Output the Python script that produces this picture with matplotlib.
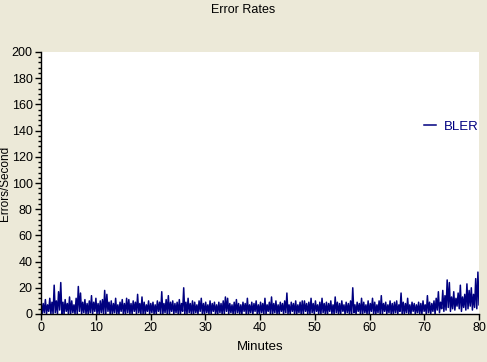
import matplotlib
matplotlib.use("Agg")
import matplotlib.pyplot as plt
import numpy as np
from matplotlib.ticker import MultipleLocator

# BLER samples: one peak and one trough per 0.4-minute step
bler_peaks = [
    10, 8, 11, 7, 12, 9, 22, 10, 17, 24,
    9, 11, 8, 13, 10, 7, 12, 21, 16, 9,
    11, 8, 10, 14, 9, 12, 8, 10, 11, 18,
    15, 9, 10, 8, 12, 7, 9, 11, 8, 12,
    11, 8, 10, 9, 15, 8, 13, 9, 7, 10,
    8, 9, 7, 10, 9, 17, 8, 11, 14, 9,
    10, 8, 9, 11, 8, 20, 9, 12, 8, 10,
    9, 7, 10, 12, 8, 9, 7, 10, 8, 9,
    7, 9, 8, 10, 13, 12, 8, 7, 9, 11,
    8, 7, 9, 8, 12, 7, 9, 8, 10, 7,
    9, 8, 12, 7, 9, 13, 8, 10, 7, 9,
    8, 10, 16, 7, 9, 8, 10, 7, 9, 10,
    10, 8, 9, 12, 8, 10, 7, 9, 12, 8,
    9, 8, 10, 7, 13, 9, 8, 10, 7, 9,
    8, 10, 20, 7, 9, 8, 12, 9, 7, 10,
    8, 12, 9, 7, 10, 14, 8, 9, 7, 10,
    8, 9, 10, 7, 16, 9, 8, 12, 7, 9,
    8, 7, 9, 8, 10, 7, 14, 9, 8, 10,
    12, 17, 9, 18, 14, 26, 24, 13, 17, 12,
    16, 22, 13, 15, 23, 18, 20, 15, 27, 32,
]
bler_troughs = [
    0, 1, 0, 2, 0, 0, 1, 0, 3, 0,
    0, 2, 0, 0, 1, 0, 0, 2, 0, 1,
    0, 0, 1, 0, 2, 0, 0, 1, 0, 0,
    2, 0, 0, 1, 0, 0, 2, 0, 0, 1,
    0, 0, 2, 0, 1, 0, 0, 0, 2, 0,
    1, 0, 0, 2, 0, 0, 1, 0, 0, 2,
    0, 1, 0, 0, 2, 0, 0, 1, 0, 0,
    1, 0, 2, 0, 0, 1, 0, 0, 2, 0,
    0, 1, 0, 0, 2, 0, 1, 0, 0, 1,
    0, 0, 2, 0, 0, 1, 0, 2, 0, 0,
    1, 0, 0, 2, 0, 0, 1, 0, 0, 2,
    0, 1, 0, 0, 2, 0, 0, 1, 0, 0,
    2, 0, 0, 1, 0, 2, 0, 0, 1, 0,
    0, 2, 0, 0, 1, 0, 0, 2, 0, 1,
    0, 0, 1, 0, 2, 0, 0, 1, 0, 0,
    2, 0, 0, 1, 0, 0, 2, 0, 1, 0,
    0, 1, 0, 2, 0, 0, 1, 0, 0, 2,
    0, 1, 0, 0, 2, 0, 1, 0, 2, 0,
    3, 1, 4, 2, 3, 5, 2, 4, 3, 6,
    4, 2, 5, 3, 4, 6, 3, 5, 4, 7,
]
step = 0.4

BG = "#ECE9D8"
NAVY = "#000080"
FS = 9
plt.rcParams["font.family"] = ["Liberation Sans", "DejaVu Sans"]

n = len(bler_peaks)
t = np.empty(2 * n)
t[0::2] = np.arange(n) * step
t[1::2] = np.arange(n) * step + step / 2
y = np.empty(2 * n)
y[0::2] = bler_peaks
y[1::2] = bler_troughs
t = t * 80 / t[-1]

fig = plt.figure(figsize=(4.87, 3.62), dpi=100, facecolor=BG)
ax = fig.add_axes([41 / 487, 48 / 362, 438 / 487, 262 / 362])
ax.set_facecolor("white")
ax.plot(t, y, color=NAVY, lw=1.1, label="BLER")

ax.set_xlim(0, 80)
ax.set_ylim(0, 200)
ax.xaxis.set_major_locator(MultipleLocator(10))
ax.yaxis.set_major_locator(MultipleLocator(20))
ax.yaxis.set_minor_locator(MultipleLocator(4))
ax.tick_params(axis="both", which="major", direction="out", length=4,
               width=1, labelsize=FS, pad=2, colors="black")
ax.tick_params(axis="y", which="minor", direction="out", length=2, width=1)
for side in ("top", "right"):
    ax.spines[side].set_visible(False)
for side in ("left", "bottom"):
    ax.spines[side].set_linewidth(1)

ax.set_xlabel("Minutes", fontsize=FS + 0.5, labelpad=5)
ax.set_ylabel("Errors/Second", fontsize=FS - 0.5)
ax.yaxis.set_label_coords(-0.069, 0.5)
fig.text(0.5, 1 - 10 / 362, "Error Rates", ha="center", va="center", fontsize=FS)

leg = ax.legend(loc="center right", bbox_to_anchor=(1.0, 0.714), frameon=False,
                borderaxespad=0, borderpad=0, handlelength=0.9,
                handletextpad=0.6, fontsize=FS + 0.5)
for txt in leg.get_texts():
    txt.set_color(NAVY)

fig.savefig("out.png", dpi=100, facecolor=BG)
